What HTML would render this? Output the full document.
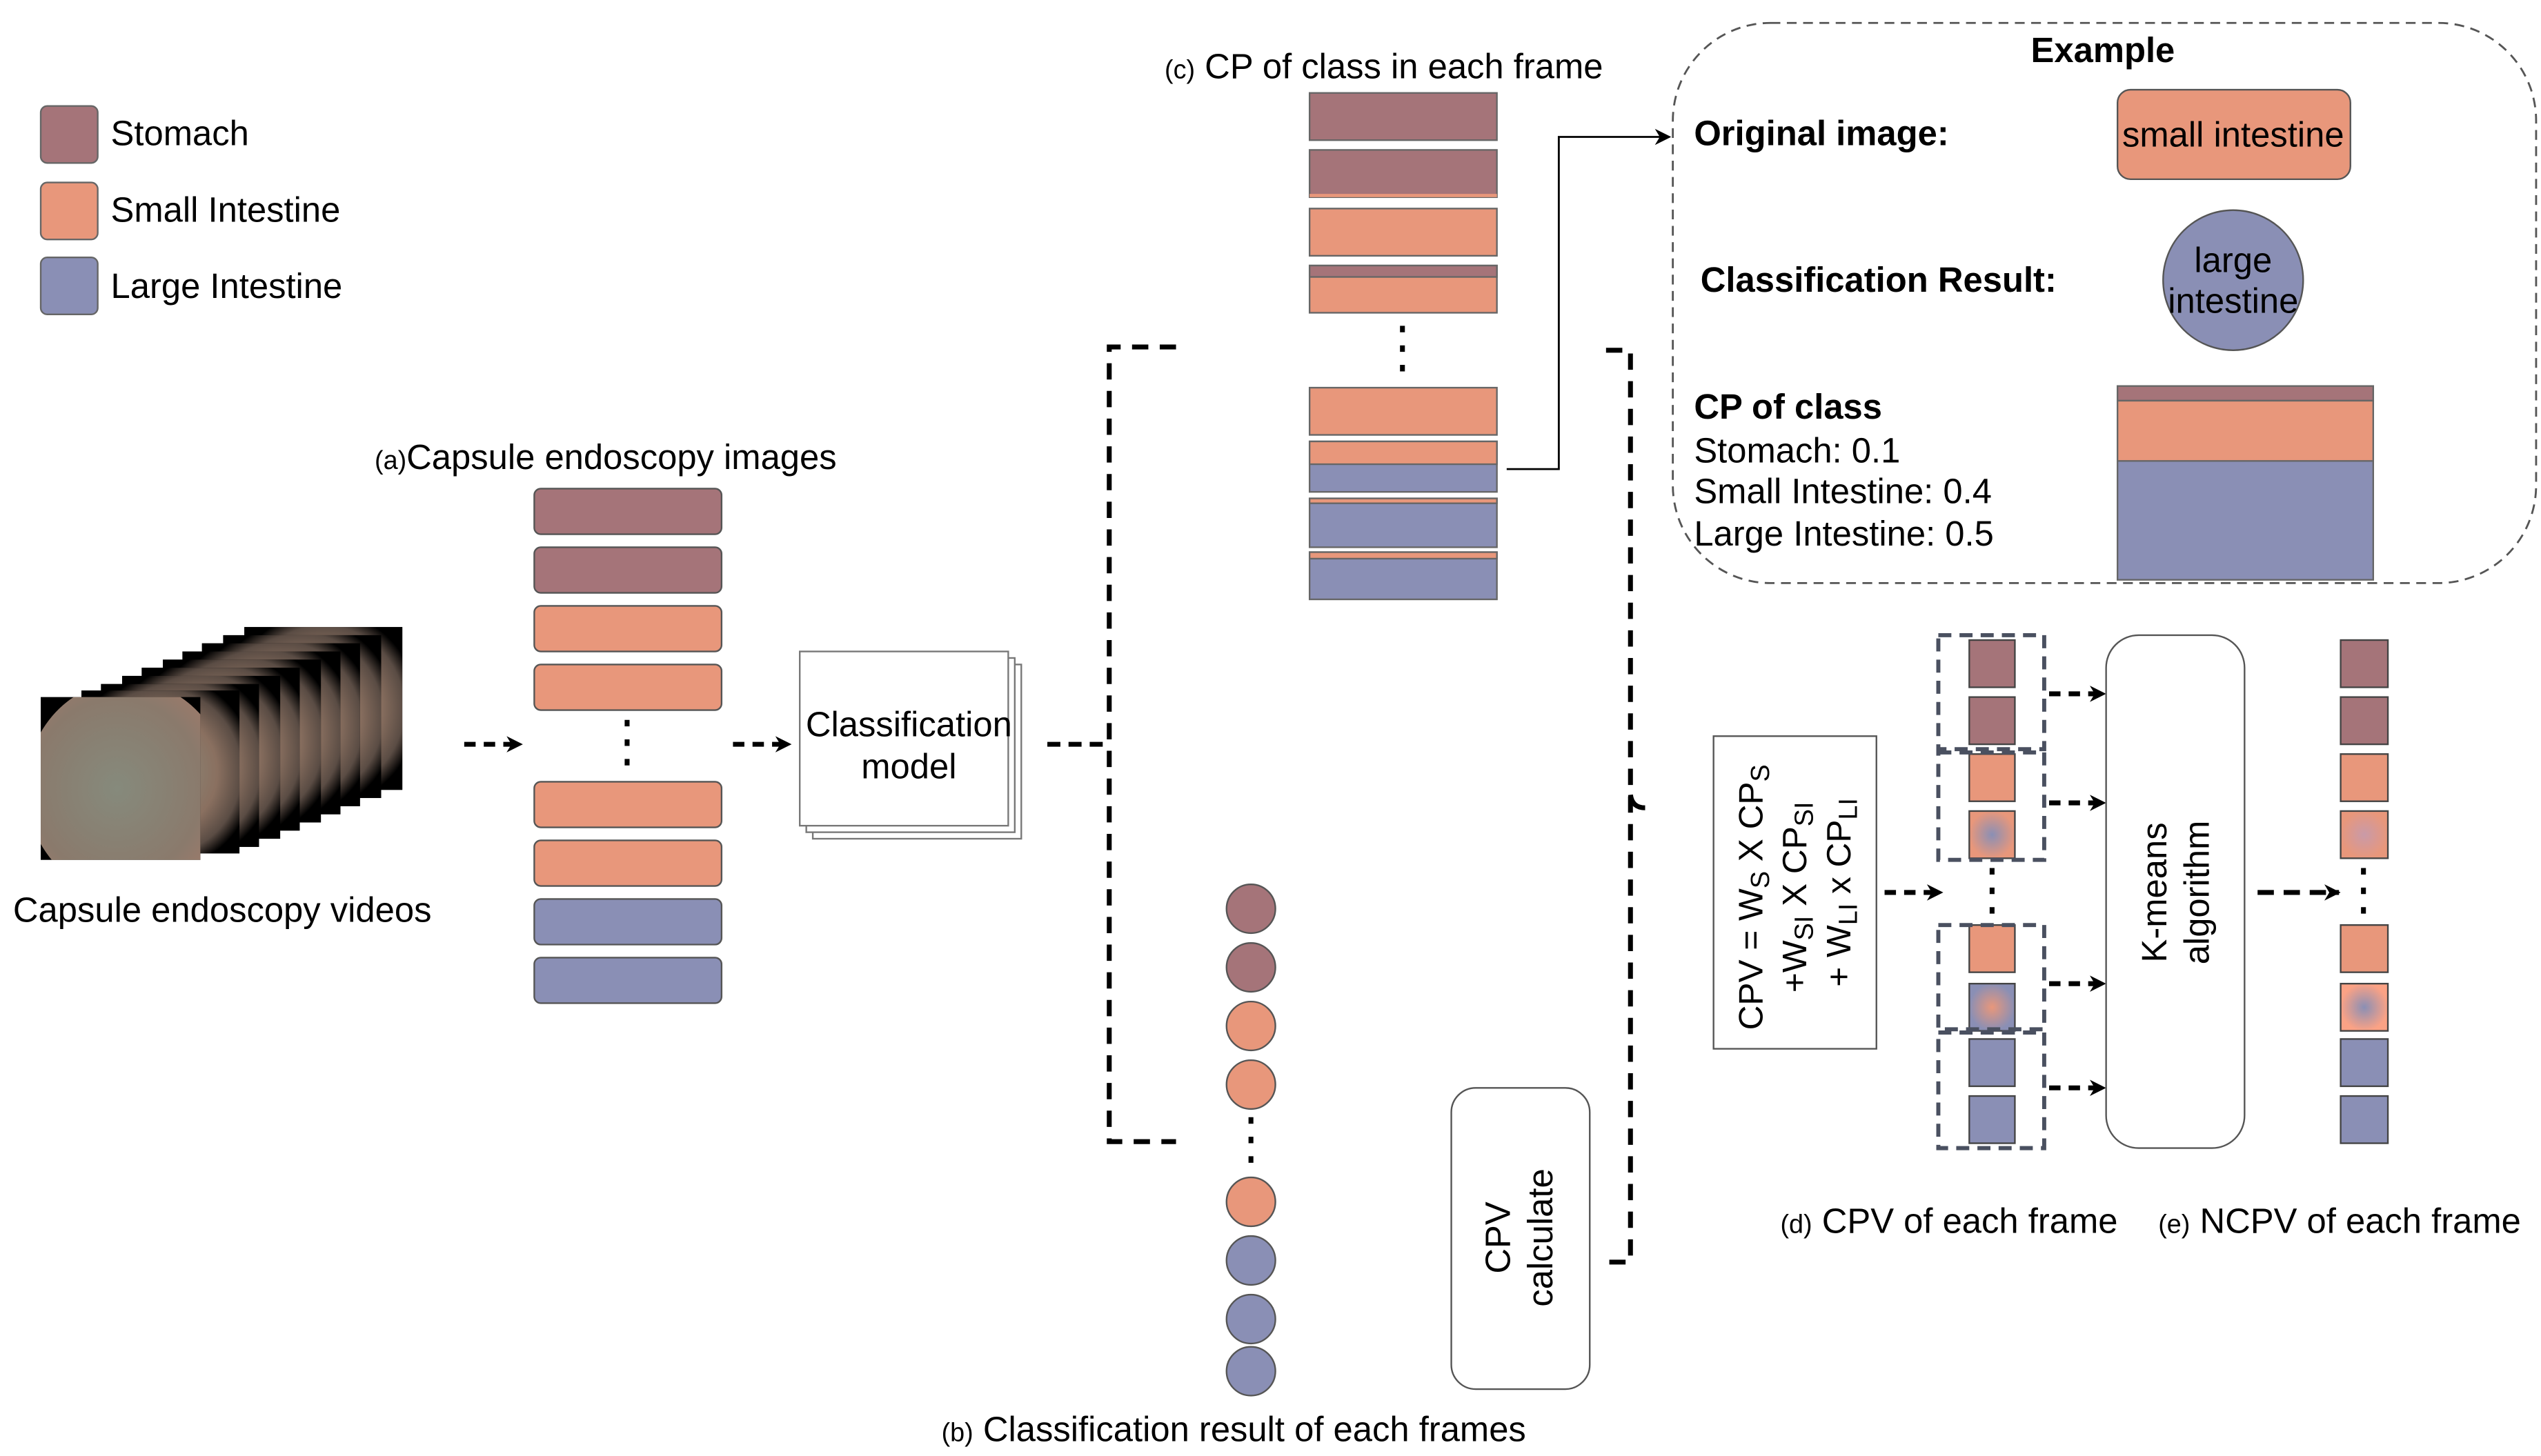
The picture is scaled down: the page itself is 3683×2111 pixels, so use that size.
<!DOCTYPE html>
<html><head><meta charset="utf-8"><style>html,body{margin:0;padding:0;background:#fff}svg{display:block}</style></head><body>
<svg width="3683" height="2111" viewBox="0 0 1560 894" xmlns="http://www.w3.org/2000/svg" font-family="Liberation Sans, sans-serif">
<defs>
<radialGradient id="vid" cx="0.5" cy="0.5" r="0.6"><stop offset="0" stop-color="#8c8f80"/><stop offset="0.6" stop-color="#8a7060"/><stop offset="0.85" stop-color="#5a4c44"/><stop offset="1" stop-color="#000"/></radialGradient>
<radialGradient id="front" cx="0.45" cy="0.5" r="0.6"><stop offset="0" stop-color="#868a7c"/><stop offset="0.7" stop-color="#8a7a6c"/><stop offset="1" stop-color="#a07a6a"/></radialGradient>
<radialGradient id="siLi" cx="0.5" cy="0.5" r="0.5"><stop offset="0" stop-color="#8a8fb5"/><stop offset="1" stop-color="#e8977b"/></radialGradient>
<radialGradient id="liSi" cx="0.5" cy="0.5" r="0.5"><stop offset="0" stop-color="#e8977b"/><stop offset="1" stop-color="#8a8fb5"/></radialGradient>
<radialGradient id="siS" cx="0.5" cy="0.5" r="0.5"><stop offset="0" stop-color="#c99aa8"/><stop offset="1" stop-color="#e8977b"/></radialGradient>
<radialGradient id="siL2" cx="0.5" cy="0.5" r="0.5"><stop offset="0" stop-color="#8a8fb5"/><stop offset="1" stop-color="#fba285"/></radialGradient>
<marker id="ar" markerWidth="10" markerHeight="10" refX="9" refY="5" orient="auto" markerUnits="userSpaceOnUse"><path d="M0,0 L10,5 L0,10 L3,5 Z" fill="#000"/></marker>
</defs>
<g font-size="21.5">
<rect x="25" y="65" width="35" height="35" rx="4" fill="#a57479" stroke="#666"/>
<rect x="25" y="112" width="35" height="35" rx="4" fill="#e8977b" stroke="#666"/>
<rect x="25" y="158" width="35" height="35" rx="4" fill="#8a8fb5" stroke="#666"/>
<text x="68" y="89">Stomach</text><text x="68" y="136">Small Intestine</text><text x="68" y="183">Large Intestine</text>
<g>
<rect x="150" y="385" width="97" height="100" fill="#333"/><rect x="150" y="385" width="97" height="100" fill="url(#vid)"/>
<rect x="137" y="390" width="97" height="100" fill="#000"/><rect x="137" y="390" width="97" height="100" fill="url(#vid)"/>
<rect x="124" y="395" width="97" height="100" fill="#000"/><rect x="124" y="395" width="97" height="100" fill="url(#vid)"/>
<rect x="112" y="400" width="97" height="100" fill="#000"/><rect x="112" y="400" width="97" height="100" fill="url(#vid)"/>
<rect x="100" y="405" width="97" height="100" fill="#000"/><rect x="100" y="405" width="97" height="100" fill="url(#vid)"/>
<rect x="87" y="410" width="97" height="100" fill="#000"/><rect x="87" y="410" width="97" height="100" fill="url(#vid)"/>
<rect x="75" y="415" width="97" height="100" fill="#000"/><rect x="75" y="415" width="97" height="100" fill="url(#vid)"/>
<rect x="62" y="420" width="97" height="100" fill="#000"/><rect x="62" y="420" width="97" height="100" fill="url(#vid)"/>
<rect x="50" y="424" width="97" height="100" fill="#000"/><rect x="50" y="424" width="97" height="100" fill="url(#vid)"/>
<rect x="25" y="428" width="98" height="100" fill="#000"/>
<clipPath id="fc"><rect x="25" y="428" width="98" height="100"/></clipPath>
<ellipse cx="78" cy="484" rx="62" ry="66" fill="url(#front)" clip-path="url(#fc)"/>
</g>
<text x="8" y="566">Capsule endoscopy videos</text>
<line x1="285" y1="457" x2="320" y2="457" stroke="#000" stroke-width="3" stroke-dasharray="7,5" marker-end="url(#ar)"/>
<text x="230" y="288"><tspan font-size="16">(a)</tspan>Capsule endoscopy images</text>
<g stroke="#555" stroke-width="1">
<rect x="328" y="300" width="115" height="28" rx="4" fill="#a57479"/>
<rect x="328" y="336" width="115" height="28" rx="4" fill="#a57479"/>
<rect x="328" y="372" width="115" height="28" rx="4" fill="#e8977b"/>
<rect x="328" y="408" width="115" height="28" rx="4" fill="#e8977b"/>
<rect x="328" y="480" width="115" height="28" rx="4" fill="#e8977b"/>
<rect x="328" y="516" width="115" height="28" rx="4" fill="#e8977b"/>
<rect x="328" y="552" width="115" height="28" rx="4" fill="#8a8fb5"/>
<rect x="328" y="588" width="115" height="28" rx="4" fill="#8a8fb5"/>
</g>
<line x1="385" y1="442" x2="385" y2="476" stroke="#000" stroke-width="3" stroke-dasharray="4,8"/>
<line x1="450" y1="457" x2="485" y2="457" stroke="#000" stroke-width="3" stroke-dasharray="7,5" marker-end="url(#ar)"/>
<rect x="499" y="408" width="128" height="107" fill="#fff" stroke="#777"/>
<rect x="495" y="404" width="128" height="107" fill="#fff" stroke="#777"/>
<rect x="491" y="400" width="128" height="107" fill="#fff" stroke="#777"/>
<text x="558" y="452" text-anchor="middle">Classification</text><text x="558" y="478" text-anchor="middle">model</text>
<line x1="643" y1="457" x2="680" y2="457" stroke="#000" stroke-width="3" stroke-dasharray="8,5"/>
<path d="M722,213 H681 V701 H722" fill="none" stroke="#000" stroke-width="3" stroke-dasharray="10,7"/>
<text x="715" y="48"><tspan font-size="16">(c)</tspan> CP of class in each frame</text>
<g stroke="#666" stroke-width="1">
<rect x="804" y="57" width="115" height="29" fill="#a57479"/>
<rect x="804" y="92" width="115" height="29" fill="#a57479"/><rect x="804" y="119" width="115" height="2" fill="#e8977b" stroke="none"/>
<rect x="804" y="128" width="115" height="29" fill="#e8977b"/>
<rect x="804" y="163" width="115" height="29" fill="#e8977b"/><rect x="804" y="163" width="115" height="7" fill="#a57479"/>
<rect x="804" y="238" width="115" height="29" fill="#e8977b"/>
<rect x="804" y="271" width="115" height="31" fill="#8a8fb5"/><rect x="804" y="271" width="115" height="14" fill="#e8977b"/>
<rect x="804" y="306" width="115" height="30" fill="#8a8fb5"/><rect x="804" y="306" width="115" height="3" fill="#e8977b"/>
<rect x="804" y="339" width="115" height="29" fill="#8a8fb5"/><rect x="804" y="339" width="115" height="4" fill="#e8977b"/>
</g>
<line x1="861" y1="200" x2="861" y2="235" stroke="#000" stroke-width="3" stroke-dasharray="4,8"/>
<path d="M925,288 H957 V84 H1025" fill="none" stroke="#000" stroke-width="1.2" marker-end="url(#ar)"/>
<rect x="1027" y="14" width="530" height="344" rx="60" fill="none" stroke="#555" stroke-width="1.2" stroke-dasharray="6,4"/>
<text x="1291" y="38" text-anchor="middle" font-weight="bold">Example</text>
<text x="1040" y="89" font-weight="bold">Original image:</text>
<rect x="1300" y="55" width="143" height="55" rx="8" fill="#e8977b" stroke="#555"/>
<text x="1371" y="90" text-anchor="middle">small intestine</text>
<text x="1044" y="179" font-weight="bold">Classification Result:</text>
<circle cx="1371" cy="172" r="43" fill="#8a8fb5" stroke="#555"/>
<text x="1371" y="167" text-anchor="middle">large</text><text x="1371" y="192" text-anchor="middle">intestine</text>
<text x="1040" y="257" font-weight="bold">CP of class</text>
<text x="1040" y="284">Stomach: 0.1</text><text x="1040" y="309">Small Intestine: 0.4</text><text x="1040" y="335">Large Intestine: 0.5</text>
<rect x="1300" y="237" width="157" height="119" fill="#8a8fb5" stroke="#666"/>
<rect x="1300" y="237" width="157" height="9" fill="#a57479" stroke="#666"/>
<rect x="1300" y="246" width="157" height="37" fill="#e8977b" stroke="#666"/>
<g stroke="#555">
<circle cx="768" cy="558" r="15" fill="#a57479"/><circle cx="768" cy="594" r="15" fill="#a57479"/>
<circle cx="768" cy="630" r="15" fill="#e8977b"/><circle cx="768" cy="666" r="15" fill="#e8977b"/>
<circle cx="768" cy="738" r="15" fill="#e8977b"/><circle cx="768" cy="774" r="15" fill="#8a8fb5"/>
<circle cx="768" cy="810" r="15" fill="#8a8fb5"/><circle cx="768" cy="842" r="15" fill="#8a8fb5"/>
</g>
<line x1="768" y1="686" x2="768" y2="720" stroke="#000" stroke-width="3" stroke-dasharray="4,8"/>
<text x="578" y="885"><tspan font-size="16">(b)</tspan> Classification result of each frames</text>
<rect x="891" y="668" width="85" height="185" rx="15" fill="#fff" stroke="#555"/>
<text transform="translate(933,760) rotate(-90)" text-anchor="middle"><tspan x="0" y="-6">CPV</tspan><tspan x="0" y="20">calculate</tspan></text>
<path d="M986,215 H1001 V775 H988" fill="none" stroke="#000" stroke-width="3" stroke-dasharray="10,7"/>
<path d="M1001,488 Q1002,496 1010,496" fill="none" stroke="#000" stroke-width="3"/>
<rect x="1052" y="452" width="100" height="192" fill="#fff" stroke="#555"/>
<text transform="translate(1102,548) rotate(-90)" text-anchor="middle" font-size="21">
<tspan x="0" y="-20">CPV = W<tspan font-size="16" dy="4">S</tspan><tspan dy="-4"> X CP</tspan><tspan font-size="16" dy="4">S</tspan></tspan>
<tspan x="0" y="7">+W<tspan font-size="16" dy="4">SI</tspan><tspan dy="-4"> X CP</tspan><tspan font-size="16" dy="4">SI</tspan></tspan>
<tspan x="0" y="34">+ W<tspan font-size="16" dy="4">LI</tspan><tspan dy="-4"> x CP</tspan><tspan font-size="16" dy="4">LI</tspan></tspan>
</text>
<line x1="1157" y1="548" x2="1192" y2="548" stroke="#000" stroke-width="3" stroke-dasharray="7,5" marker-end="url(#ar)"/>
<g stroke="#444" stroke-width="1">
<rect x="1209" y="393" width="28" height="29" fill="#a57479"/>
<rect x="1209" y="428" width="28" height="29" fill="#a57479"/>
<rect x="1209" y="463" width="28" height="29" fill="#e8977b"/>
<rect x="1209" y="498" width="28" height="29" fill="url(#siLi)"/>
<rect x="1209" y="568" width="28" height="29" fill="#e8977b"/>
<rect x="1209" y="604" width="28" height="29" fill="url(#liSi)"/>
<rect x="1209" y="638" width="28" height="29" fill="#8a8fb5"/>
<rect x="1209" y="673" width="28" height="29" fill="#8a8fb5"/>
</g>
<line x1="1223" y1="533" x2="1223" y2="566" stroke="#000" stroke-width="3" stroke-dasharray="4,8"/>
<g fill="none" stroke="#4a5060" stroke-width="2.5" stroke-dasharray="8,5">
<rect x="1190" y="390" width="65" height="70"/>
<rect x="1190" y="462" width="65" height="66"/>
<rect x="1190" y="568" width="65" height="64"/>
<rect x="1190" y="634" width="65" height="71"/>
</g>
<g stroke="#000" stroke-width="3" stroke-dasharray="7,5" marker-end="url(#ar)">
<line x1="1258" y1="426" x2="1292" y2="426"/><line x1="1258" y1="493" x2="1292" y2="493"/>
<line x1="1258" y1="604" x2="1292" y2="604"/><line x1="1258" y1="668" x2="1292" y2="668"/>
</g>
<rect x="1293" y="390" width="85" height="315" rx="20" fill="#fff" stroke="#555"/>
<text transform="translate(1336,548) rotate(-90)" text-anchor="middle"><tspan x="0" y="-6">K-means</tspan><tspan x="0" y="20">algorithm</tspan></text>
<line x1="1386" y1="548" x2="1436" y2="548" stroke="#000" stroke-width="3" stroke-dasharray="10,6" marker-end="url(#ar)"/>
<g stroke="#444" stroke-width="1">
<rect x="1437" y="393" width="29" height="29" fill="#a57479"/>
<rect x="1437" y="428" width="29" height="29" fill="#a57479"/>
<rect x="1437" y="463" width="29" height="29" fill="#e8977b"/>
<rect x="1437" y="498" width="29" height="29" fill="url(#siS)"/>
<rect x="1437" y="568" width="29" height="29" fill="#e8977b"/>
<rect x="1437" y="604" width="29" height="29" fill="url(#siL2)"/>
<rect x="1437" y="638" width="29" height="29" fill="#8a8fb5"/>
<rect x="1437" y="673" width="29" height="29" fill="#8a8fb5"/>
</g>
<line x1="1451" y1="533" x2="1451" y2="566" stroke="#000" stroke-width="3" stroke-dasharray="4,8"/>
<text x="1093" y="757"><tspan font-size="16">(d)</tspan>  CPV of each frame</text>
<text x="1325" y="757"><tspan font-size="16">(e)</tspan> NCPV of each frame</text>
</g>
</svg>
</body></html>
